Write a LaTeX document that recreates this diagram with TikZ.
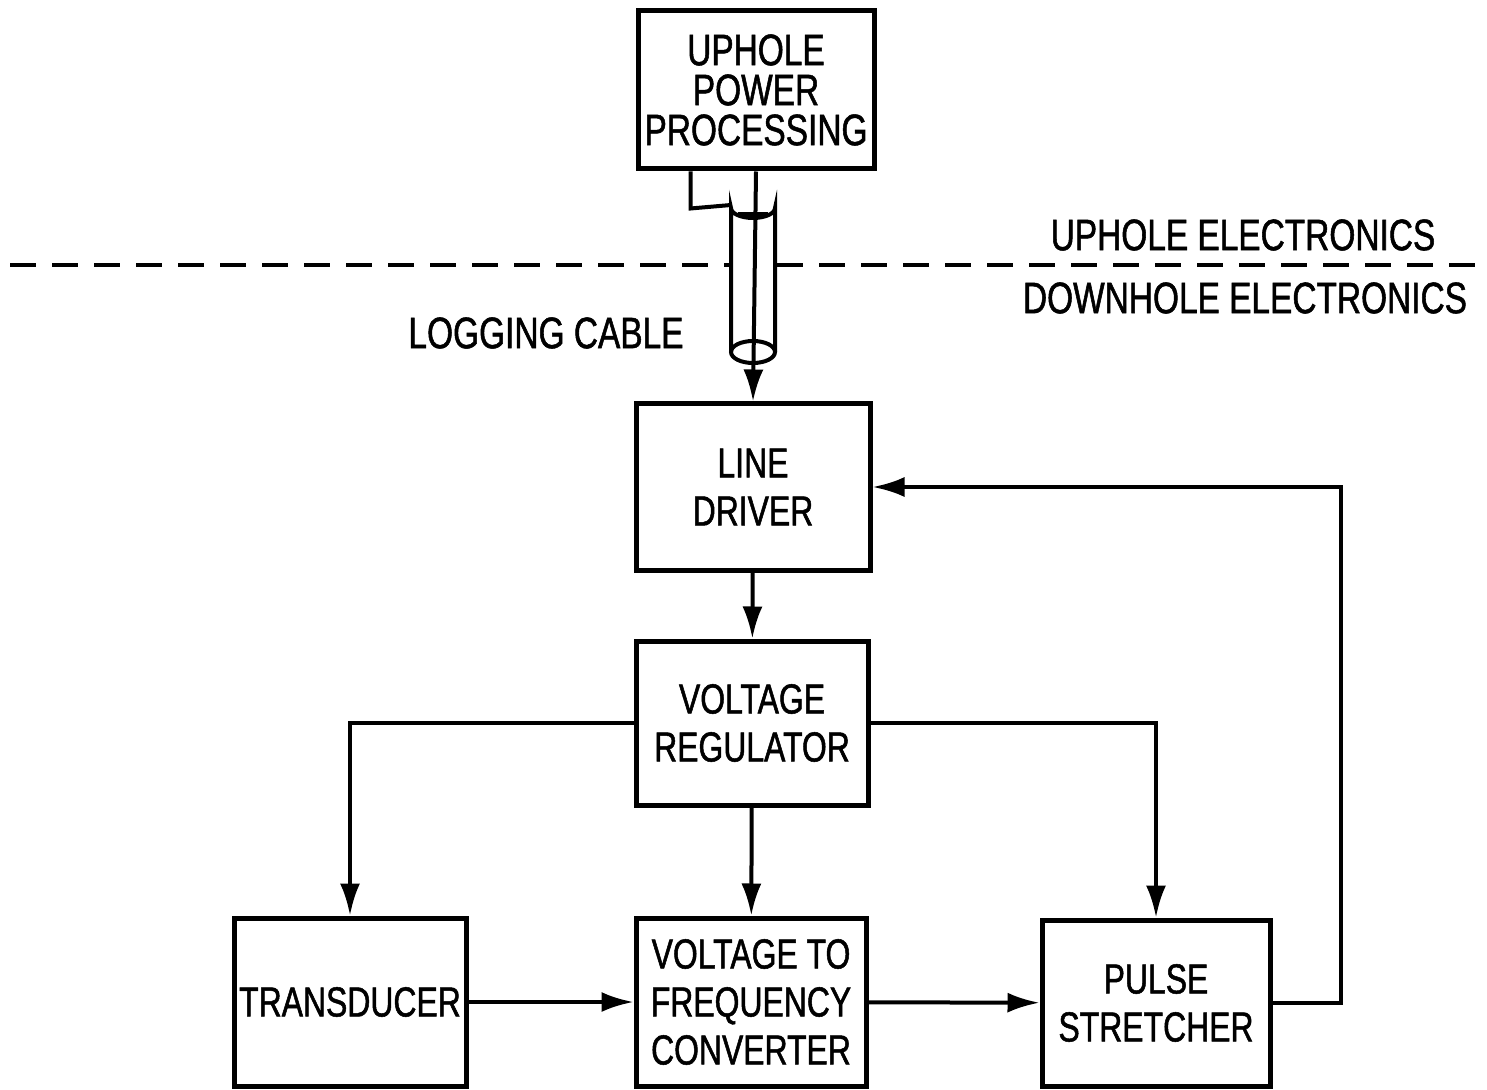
\documentclass[tikz,border=0pt]{standalone}
\usepackage{fontspec}
\setmainfont{Liberation Sans}[FakeStretch=0.76,FakeBold=1.2]
\usetikzlibrary{arrows.meta}
\begin{document}
\begin{tikzpicture}[x=0.5pt,y=-0.5pt,
  blk/.style={draw,line width=2.5pt,inner sep=0pt,align=center,font=\fontsize{21}{24}\selectfont},
  wire/.style={line width=2pt},
  arr/.style={wire,-{Latex[length=16pt,width=10pt]}},
  lbl/.style={inner sep=0pt,font=\fontsize{22}{24}\selectfont}]
\useasboundingbox (0,0) rectangle (1487,1090);
\node[blk,minimum width=118pt,minimum height=79pt,font=\fontsize{22}{20}\selectfont] (up) at (756,90) {UPHOLE\\POWER\\PROCESSING};
\node[blk,minimum width=117pt,minimum height=83pt] (ld) at (753,487) {LINE\\DRIVER};
\node[blk,minimum width=116pt,minimum height=82pt] (vr) at (752,723) {VOLTAGE\\REGULATOR};
\node[blk,minimum width=116pt,minimum height=84pt] (tr) at (350,1002) {TRANSDUCER};
\node[blk,minimum width=115pt,minimum height=84pt] (vf) at (751,1002) {VOLTAGE TO\\FREQUENCY\\CONVERTER};
\node[blk,minimum width=114pt,minimum height=83pt] (ps) at (1156,1003) {PULSE\\STRETCHER};
% labels
\node[lbl] (ue) at (1243,235) {UPHOLE ELECTRONICS};
\node[lbl] (de) at (1245,298) {DOWNHOLE ELECTRONICS};
\node[lbl] (lc) at (546,333) {LOGGING CABLE};
% divider
\coordinate (dl) at (10,265);
\coordinate (dr) at (1487,265);
\draw[wire,dash pattern=on 13pt off 8pt] (dl) -- (729,265);
\draw[wire,dash pattern=on 13pt off 8pt] (777,265) -- (dr);
% cable cylinder
\coordinate (ct) at (753,208);
\coordinate (cb) at (753,352);
\draw[line width=2pt,fill=white] (731,352) -- (731,208) arc[start angle=180,end angle=0,x radius=22,y radius=10] -- (775,352);
\draw[line width=2pt] (cb) ellipse[x radius=22,y radius=11];
\draw[line width=2pt] (738,214) -- (768,214);
% wires
\draw[arr] (up.south) -- (ld.north);
\draw[wire] (up.south west) ++(55,0) -- ++(0,37) -- (731,205);
% arrows
\draw[arr] (ld) -- (vr);
\draw[arr] (vr) -- (vf);
\draw[arr] (vr.west) -| (tr.north);
\draw[arr] (vr.east) -| (ps.north);
\draw[arr] (tr) -- (vf);
\draw[arr] (vf) -- (ps);
\draw[arr] (ps.east) -- ++(68,0) |- (ld.east);
\end{tikzpicture}
\end{document}
